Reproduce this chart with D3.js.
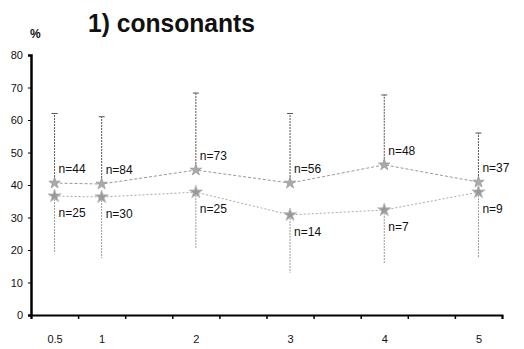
<!DOCTYPE html>
<html><head><meta charset="utf-8">
<script src="https://cdn.jsdelivr.net/npm/d3@7"></script>
<style>body{margin:0;background:#fff}svg{display:block}</style>
</head><body>
<script>
const xs = [0.5, 1, 2, 3, 4, 5];
const xLabels = ["0.5", "1", "2", "3", "4", "5"];
const seriesA = [40.6, 40.3, 44.6, 40.6, 46.2, 40.9];
const seriesAUpper = [62, 61, 68.3, 62, 67.7, 56];
const seriesAN = [44, 84, 73, 56, 48, 37];
const seriesB = [36.6, 36.3, 37.8, 30.8, 32.3, 37.8];
const seriesBLower = [19, 17.5, 20.3, 13, 16, 17.5];
const seriesBN = [25, 30, 25, 14, 7, 9];
const yTicks = [0, 10, 20, 30, 40, 50, 60, 70, 80];

const W = 524, H = 349;
const svg = d3.select("body").append("svg").attr("width", W).attr("height", H);
const x = d3.scaleLinear().domain([0.25, 5.25]).range([31, 502]);
const y = d3.scaleLinear().domain([0, 80]).range([315, 55]);
const FONT = "Liberation Sans, Arial, sans-serif";

// title
svg.append("text").attr("x", 88).attr("y", 32)
  .attr("font-family", FONT).attr("font-weight", "bold")
  .attr("font-size", 25).attr("textLength", 167).attr("lengthAdjust", "spacingAndGlyphs")
  .attr("fill", "#111").text("1) consonants");
svg.append("text").attr("x", 30).attr("y", 38)
  .attr("font-family", FONT).attr("font-weight", "bold")
  .attr("font-size", 12).attr("fill", "#111").text("%");

// y axis
const yAxis = svg.append("g").attr("transform", "translate(31,0)")
  .call(d3.axisLeft(y).tickValues(yTicks).tickSize(3).tickPadding(5));
yAxis.select(".domain").attr("stroke", "#000").attr("stroke-width", 2.5);
yAxis.selectAll("text").attr("font-family", FONT)
  .attr("font-size", 11).attr("fill", "#111");

// x axis
const xTickVals = d3.range(0, 11).map(i => 0.25 + i * 0.5);
const xAxis = svg.append("g").attr("transform", "translate(0,315)")
  .call(d3.axisBottom(x).tickValues(xTickVals).tickSize(4).tickFormat(""));
xAxis.select(".domain").attr("stroke", "#000").attr("stroke-width", 2);
xAxis.selectAll(".tick line").attr("stroke-width", 1.5);
const xLab = svg.append("g").attr("transform", "translate(0,315)")
  .call(d3.axisBottom(x).tickValues(xs).tickSize(0).tickPadding(20)
    .tickFormat((d, i) => xLabels[i]));
xLab.select(".domain").remove();
xLab.selectAll("text").attr("font-family", FONT)
  .attr("font-size", 11).attr("fill", "#111");

// error bars
const capW = 3;
const eb = svg.append("g");
xs.forEach((v, i) => {
  eb.append("line").attr("x1", x(v)).attr("x2", x(v))
    .attr("y1", y(seriesA[i])).attr("y2", y(seriesAUpper[i]))
    .attr("stroke", "#555").attr("stroke-width", 1).attr("stroke-dasharray", "2,1");
  eb.append("line").attr("x1", x(v) - capW).attr("x2", x(v) + capW)
    .attr("y1", y(seriesAUpper[i])).attr("y2", y(seriesAUpper[i]))
    .attr("stroke", "#555").attr("stroke-width", 1);
  eb.append("line").attr("x1", x(v)).attr("x2", x(v))
    .attr("y1", y(seriesB[i])).attr("y2", y(seriesBLower[i]))
    .attr("stroke", "#999").attr("stroke-width", 1).attr("stroke-dasharray", "2,1");
});

// lines
const line = d3.line().x((d, i) => x(xs[i])).y(d => y(d));
svg.append("path").datum(seriesA).attr("d", line).attr("fill", "none")
  .attr("stroke", "#999").attr("stroke-width", 1).attr("stroke-dasharray", "3,2");
svg.append("path").datum(seriesB).attr("d", line).attr("fill", "none")
  .attr("stroke", "#aaa").attr("stroke-width", 1).attr("stroke-dasharray", "2,2");

// markers
svg.append("g").selectAll("path").data(seriesA).join("path")
  .attr("d", d3.symbol().type(d3.symbolStar).size(40))
  .attr("transform", (d, i) => `translate(${x(xs[i])},${y(d)})`)
  .attr("fill", "#aaa").attr("stroke", "#999").attr("stroke-width", 0.8);
svg.append("g").selectAll("path").data(seriesB).join("path")
  .attr("d", d3.symbol().type(d3.symbolStar).size(55))
  .attr("transform", (d, i) => `translate(${x(xs[i])},${y(d)})`)
  .attr("fill", "#999").attr("stroke", "#bbb").attr("stroke-width", 0.8);

// n labels
const lab = svg.append("g").attr("font-family", FONT)
  .attr("font-size", 12).attr("fill", "#111");
lab.selectAll("text.a").data(seriesA).join("text").attr("class", "a")
  .attr("x", (d, i) => x(xs[i]) + 4).attr("y", d => y(d) - 10)
  .text((d, i) => "n=" + seriesAN[i]);
lab.selectAll("text.b").data(seriesB).join("text").attr("class", "b")
  .attr("x", (d, i) => x(xs[i]) + 4).attr("y", d => y(d) + 21)
  .text((d, i) => "n=" + seriesBN[i]);
</script>
</body></html>
